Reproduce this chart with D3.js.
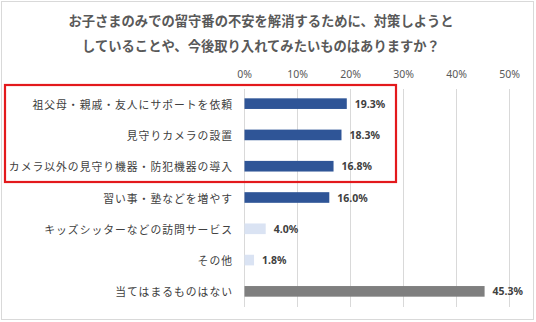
<!DOCTYPE html>
<html><head><meta charset="utf-8">
<script src="https://cdn.jsdelivr.net/npm/d3@7"></script>
<style>
html,body{margin:0;padding:0;background:#fff;}
svg{display:block;}
</style></head>
<body>
<script>
const titleLines = ["お子さまのみでの留守番の不安を解消するために、対策しようと", "していることや、今後取り入れてみたいものはありますか？"];
const categories = ["祖父母・親戚・友人にサポートを依頼","見守りカメラの設置","カメラ以外の見守り機器・防犯機器の導入","習い事・塾などを増やす","キッズシッターなどの訪問サービス","その他","当てはまるものはない"];
const values = [19.3, 18.3, 16.8, 16.0, 4.0, 1.8, 45.3];
const groups = ["dark","dark","dark","dark","light","light","gray"];
const ticks = [0,10,20,30,40,50];

const W=536,H=322;
const colors={dark:"#2F5597",light:"#DAE3F3",gray:"#7F7F7F"};
const jp='"Noto Sans CJK JP","Noto Sans",sans-serif';

const svg=d3.select("body").append("svg").attr("width",W).attr("height",H);
svg.append("rect").attr("x",1.5).attr("y",1.5).attr("width",W-4).attr("height",H-4)
  .attr("fill","#fff").attr("stroke","#D9D9D9").attr("stroke-width",1);

const x=d3.scaleLinear().domain([0,50]).range([244.5,509.5]);
const y=d3.scaleBand().domain(categories).range([88,307]).paddingInner(0.66).paddingOuter(0.33);

svg.selectAll("text.title").data(titleLines).join("text").attr("class","title")
  .attr("x",261).attr("y",(d,i)=>20+i*25).attr("text-anchor","middle").attr("dominant-baseline","central")
  .attr("font-family",jp).attr("font-weight","bold").attr("font-size",13.3).attr("fill","#595959")
  .text(d=>d);

// gridlines
svg.selectAll("line.grid").data(ticks).join("line").attr("class","grid")
  .attr("x1",d=>x(d)).attr("x2",d=>x(d)).attr("y1",89).attr("y2",307)
  .attr("stroke","#D9D9D9").attr("stroke-width",1);

// tick labels
svg.selectAll("text.tick").data(ticks).join("text").attr("class","tick")
  .attr("x",d=>x(d)).attr("y",74).attr("text-anchor","middle").attr("dominant-baseline","central")
  .attr("font-family",'"Noto Sans","Open Sans",sans-serif').attr("font-size",10.5).attr("fill","#595959")
  .text(d=>d+"%");

// bars
svg.selectAll("rect.bar").data(categories).join("rect").attr("class","bar")
  .attr("x",x(0)).attr("y",d=>y(d)).attr("height",y.bandwidth())
  .attr("width",(d,i)=>x(values[i])-x(0)).attr("fill",(d,i)=>colors[groups[i]]);

// category labels
svg.selectAll("text.cat").data(categories).join("text").attr("class","cat")
  .attr("x",233).attr("y",d=>y(d)+y.bandwidth()/2).attr("text-anchor","end").attr("dominant-baseline","central")
  .attr("font-family",jp).attr("font-size",10.8).attr("letter-spacing",1).attr("fill","#404040")
  .text(d=>d);

// value labels
svg.selectAll("text.val").data(categories).join("text").attr("class","val")
  .attr("x",(d,i)=>x(values[i])+8).attr("y",d=>y(d)+y.bandwidth()/2).attr("dominant-baseline","central")
  .attr("font-family",'"Noto Sans","Open Sans",sans-serif').attr("font-weight","bold").attr("font-size",10.5).attr("fill","#404040")
  .text((d,i)=>values[i].toFixed(1)+"%");

// highlight box
svg.append("rect").attr("x",5).attr("y",85).attr("width",391).attr("height",97)
  .attr("fill","none").attr("stroke","#E3191C").attr("stroke-width",2.2);
</script>
</body></html>
